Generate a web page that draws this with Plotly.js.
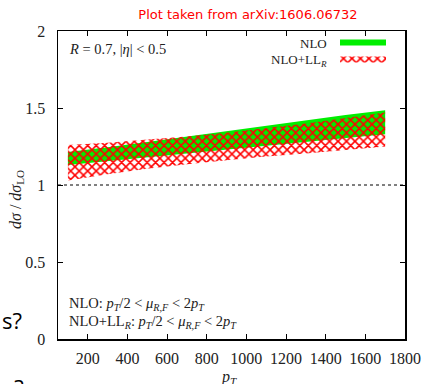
<!DOCTYPE html>
<html>
<head>
<meta charset="utf-8">
<script src="https://cdn.plot.ly/plotly-3.0.1.min.js"></script>
<style>
  html, body { margin: 0; padding: 0; background: #fff; }
  #chart { width: 423px; height: 384px; }
</style>
</head>
<body>
<div id="chart"></div>
<script>
// Jet cross-section ratio to LO, scale-variation bands vs pT
var pt = [100, 300, 500, 700, 900, 1100, 1300, 1500, 1700];

// NLO band (pT/2 < mu_R,F < 2 pT)
var nloLow  = [1.13, 1.155, 1.18, 1.205, 1.23, 1.255, 1.28, 1.305, 1.33];
var nloHigh = [1.215, 1.245, 1.28, 1.315, 1.35, 1.385, 1.42, 1.455, 1.485];

// NLO+LL_R band
var llLow  = [1.03, 1.07, 1.105, 1.135, 1.16, 1.185, 1.205, 1.228, 1.25];
var llHigh = [1.26, 1.275, 1.295, 1.315, 1.34, 1.37, 1.40, 1.435, 1.47];

var xTicks = [200, 400, 600, 800, 1000, 1200, 1400, 1600, 1800];
var yTicks = [0, 0.5, 1, 1.5, 2];
var yTickText = ['0', '0.5', '1', '1.5', '2'];

var serif = 'Liberation Serif, Times New Roman, serif';
var PLOT_L = 58, PLOT_R = 405, PLOT_T = 31, PLOT_B = 339;
function px(x) { return (x - PLOT_L) / (PLOT_R - PLOT_L); }
function py(y) { return (PLOT_B - y) / (PLOT_B - PLOT_T); }

var traces = [
  { x: pt, y: nloLow, type: 'scatter', mode: 'lines', line: { width: 0 },
    showlegend: false, hoverinfo: 'skip' },
  { x: pt, y: nloHigh, type: 'scatter', mode: 'lines', line: { width: 0 },
    fill: 'tonexty', fillcolor: '#00ee00', name: ' ', hoverinfo: 'skip',
    legend: 'legend' },
  { x: pt, y: llLow, type: 'scatter', mode: 'lines', line: { width: 0 },
    showlegend: false, hoverinfo: 'skip' },
  { x: pt, y: llHigh, type: 'scatter', mode: 'lines', line: { width: 0 },
    fill: 'tonexty', fillcolor: 'rgba(0,0,0,0)', name: ' ', hoverinfo: 'skip',
    legend: 'legend2',
    fillpattern: { shape: 'x', fgcolor: '#ff0000', bgcolor: 'rgba(0,0,0,0)',
                   size: 6, solidity: 0.45 } }
];

var legendBase = {
  xanchor: 'left', yanchor: 'top', bgcolor: 'rgba(0,0,0,0)', borderwidth: 0,
  itemwidth: 46, font: { family: serif, size: 7, color: '#222' }
};
function legendAt(top) {
  var l = JSON.parse(JSON.stringify(legendBase));
  l.x = px(335); l.y = py(top);
  return l;
}

var txt = '#222222';
var layout = {
  width: 423, height: 384,
  margin: { l: PLOT_L, r: 423 - PLOT_R, t: PLOT_T, b: 384 - PLOT_B },
  paper_bgcolor: '#ffffff', plot_bgcolor: '#ffffff',
  title: {
    text: 'Plot taken from arXiv:1606.06732',
    font: { family: 'DejaVu Sans, sans-serif', size: 13, color: '#ff0000' },
    xref: 'container', yref: 'container',
    x: 248 / 423, y: 1 - 14 / 384, xanchor: 'center', yanchor: 'middle'
  },
  xaxis: {
    range: [50, 1800], tickvals: xTicks, ticks: 'inside', ticklen: 5,
    tickcolor: '#000', tickwidth: 1, showline: true, linecolor: '#000',
    linewidth: 1.5, mirror: 'ticks', showgrid: false, zeroline: false,
    tickfont: { family: serif, size: 16, color: txt }, ticklabelstandoff: 4
  },
  yaxis: {
    range: [0, 2], tickvals: yTicks, ticktext: yTickText, ticks: 'inside',
    ticklen: 5, tickcolor: '#000', tickwidth: 1, showline: true,
    linecolor: '#000', linewidth: 1.5, mirror: 'ticks', showgrid: false,
    zeroline: false, tickfont: { family: serif, size: 16, color: txt },
    ticklabelstandoff: 8
  },
  showlegend: true,
  legend: legendAt(27),
  legend2: legendAt(44),
  shapes: [
    { type: 'line', xref: 'paper', yref: 'y', x0: 0, x1: 1, y0: 1, y1: 1,
      line: { color: '#000', width: 1, dash: 'dot' }, layer: 'below' }
  ],
  annotations: [
    { text: '<i>R</i> = 0.7, |<i>η</i>| &lt; 0.5', xref: 'paper', yref: 'paper',
      x: px(67), y: py(49), xanchor: 'left', yanchor: 'middle', showarrow: false,
      font: { family: serif, size: 14.5, color: txt } },
    { text: 'NLO', xref: 'paper', yref: 'paper', x: px(329), y: py(43),
      xanchor: 'right', yanchor: 'middle', showarrow: false,
      font: { family: serif, size: 13, color: txt } },
    { text: 'NLO+LL<sub><i>R</i></sub>', xref: 'paper', yref: 'paper',
      x: px(329), y: py(61), xanchor: 'right', yanchor: 'middle', showarrow: false,
      font: { family: serif, size: 13, color: txt } },
    { text: 'NLO: <i>p<sub>T</sub></i>/2 &lt; <i>μ<sub>R,F</sub></i> &lt; 2<i>p<sub>T</sub></i>',
      xref: 'paper', yref: 'paper', x: px(67), y: py(304), xanchor: 'left',
      yanchor: 'middle', showarrow: false, font: { family: serif, size: 14.5, color: txt } },
    { text: 'NLO+LL<sub><i>R</i></sub>: <i>p<sub>T</sub></i>/2 &lt; <i>μ<sub>R,F</sub></i> &lt; 2<i>p<sub>T</sub></i>',
      xref: 'paper', yref: 'paper', x: px(67), y: py(322), xanchor: 'left',
      yanchor: 'middle', showarrow: false, font: { family: serif, size: 14.5, color: txt } },
    { text: '<i>dσ</i> / <i>dσ</i><sub>LO</sub>', xref: 'paper', yref: 'paper',
      x: px(16), y: py(200), xanchor: 'center', yanchor: 'middle', textangle: -90,
      showarrow: false, font: { family: serif, size: 16, color: txt } },
    { text: '<i>p<sub>T</sub></i>', xref: 'paper', yref: 'paper',
      x: px(229), y: py(377), xanchor: 'center', yanchor: 'middle',
      showarrow: false, font: { family: serif, size: 16, color: txt } },
    { text: 's?', xref: 'paper', yref: 'paper', x: px(0), y: py(320),
      xanchor: 'left', yanchor: 'middle', showarrow: false,
      font: { family: 'Open Sans, Liberation Sans, sans-serif', size: 22, color: '#000' } },
    { text: 'e?', xref: 'paper', yref: 'paper', x: px(0), y: py(370),
      xanchor: 'left', yanchor: 'top', showarrow: false,
      font: { family: 'Open Sans, Liberation Sans, sans-serif', size: 22, color: '#000' } }
  ]
};

Plotly.newPlot('chart', traces, layout, { staticPlot: true, displayModeBar: false });
</script>
</body>
</html>
